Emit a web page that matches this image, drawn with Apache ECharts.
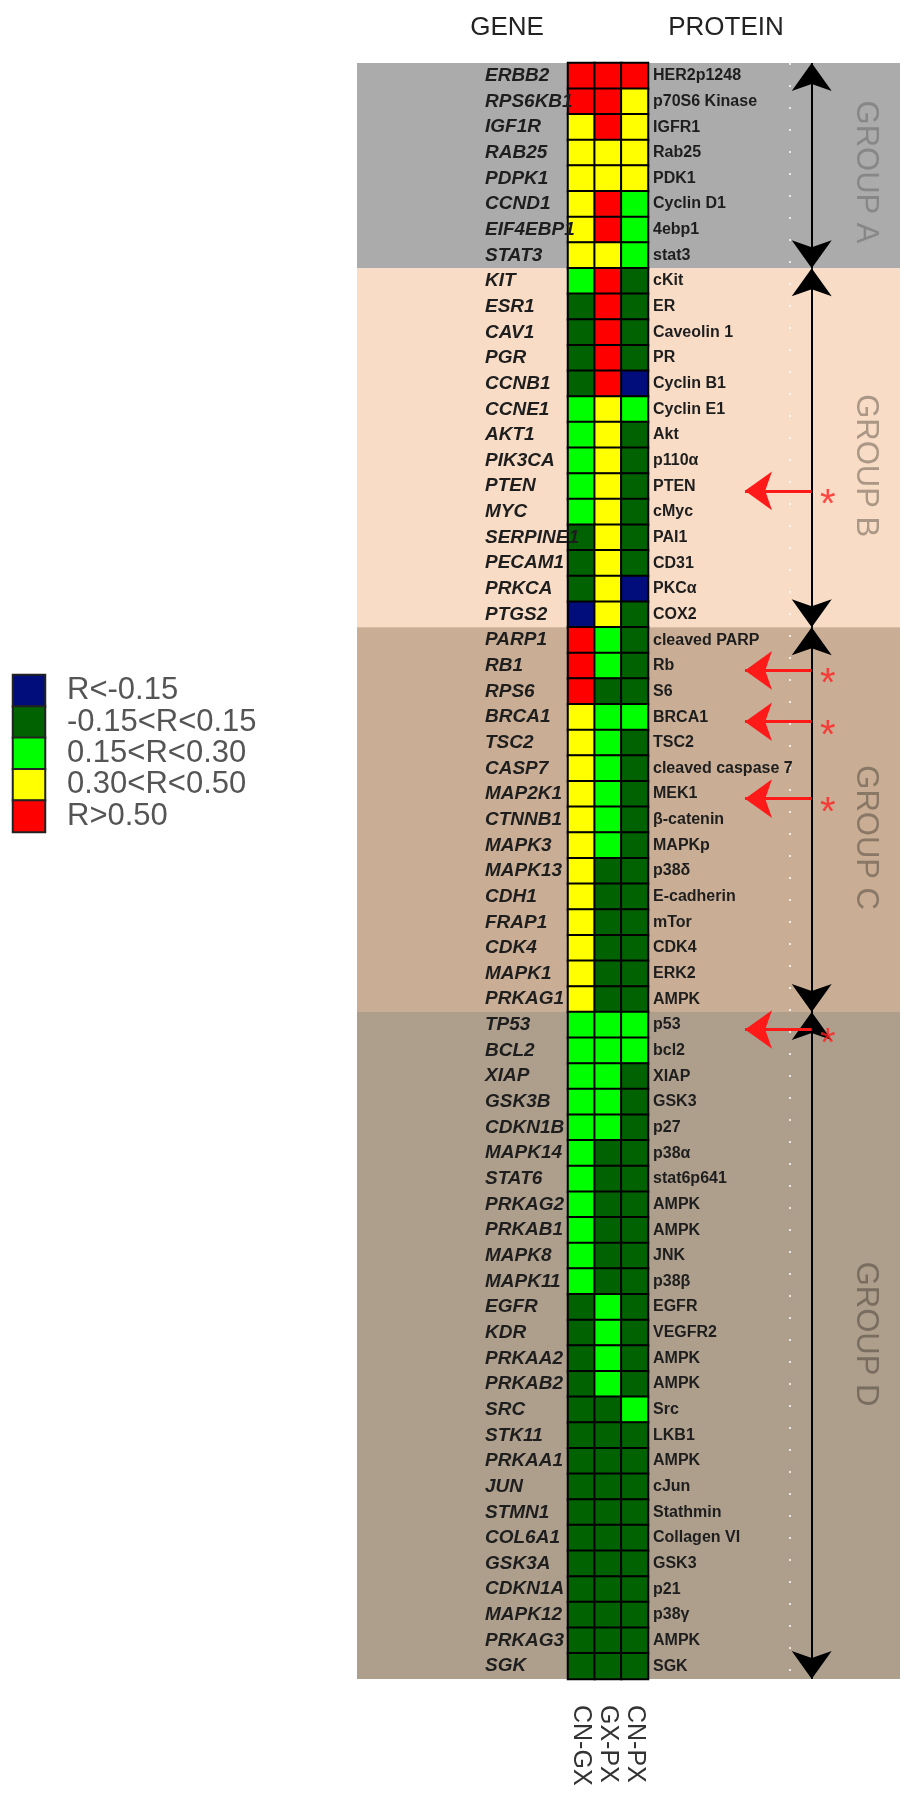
<!DOCTYPE html>
<html><head><meta charset="utf-8">
<script src="https://cdn.jsdelivr.net/npm/echarts@6/dist/echarts.min.js"></script>
<style>html,body{margin:0;padding:0;background:#fff}#chart{width:911px;height:1800px}</style>
</head><body><div id="chart"></div>
<script>
// ---------------- DATA ----------------
const genes = ['ERBB2','RPS6KB1','IGF1R','RAB25','PDPK1','CCND1','EIF4EBP1','STAT3',
  'KIT','ESR1','CAV1','PGR','CCNB1','CCNE1','AKT1','PIK3CA','PTEN','MYC','SERPINE1','PECAM1','PRKCA','PTGS2',
  'PARP1','RB1','RPS6','BRCA1','TSC2','CASP7','MAP2K1','CTNNB1','MAPK3','MAPK13','CDH1','FRAP1','CDK4','MAPK1','PRKAG1',
  'TP53','BCL2','XIAP','GSK3B','CDKN1B','MAPK14','STAT6','PRKAG2','PRKAB1','MAPK8','MAPK11','EGFR','KDR','PRKAA2','PRKAB2','SRC',
  'STK11','PRKAA1','JUN','STMN1','COL6A1','GSK3A','CDKN1A','MAPK12','PRKAG3','SGK'];
const proteins = ['HER2p1248','p70S6 Kinase','IGFR1','Rab25','PDK1','Cyclin D1','4ebp1','stat3',
  'cKit','ER','Caveolin 1','PR','Cyclin B1','Cyclin E1','Akt','p110α','PTEN','cMyc','PAI1','CD31','PKCα','COX2',
  'cleaved PARP','Rb','S6','BRCA1','TSC2','cleaved caspase 7','MEK1','β-catenin','MAPKp','p38δ','E-cadherin','mTor','CDK4','ERK2','AMPK',
  'p53','bcl2','XIAP','GSK3','p27','p38α','stat6p641','AMPK','AMPK','JNK','p38β','EGFR','VEGFR2','AMPK','AMPK','Src',
  'LKB1','AMPK','cJun','Stathmin','Collagen VI','GSK3','p21','p38γ','AMPK','SGK'];
const columns = ['CN-GX','GX-PX','CN-PX'];
// correlation class: 0 R<-0.15, 1 -0.15<R<0.15, 2 0.15<R<0.30, 3 0.30<R<0.50, 4 R>0.50
const cnGx = [4,4,3,3,3,3,3,3,
  2,1,1,1,1,2,2,2,2,2,1,1,1,0,
  4,4,4,3,3,3,3,3,3,3,3,3,3,3,3,
  2,2,2,2,2,2,2,2,2,2,2,1,1,1,1,1,1,1,1,1,1,1,1,1,1,1];
const gxPx = [4,4,4,3,3,4,4,3,
  4,4,4,4,4,3,3,3,3,3,3,3,3,3,
  2,2,1,2,2,2,2,2,2,1,1,1,1,1,1,
  2,2,2,2,2,1,1,1,1,1,1,2,2,2,2,1,1,1,1,1,1,1,1,1,1,1];
const cnPx = [4,3,3,3,3,2,2,2,
  1,1,1,1,0,2,1,1,1,1,1,1,0,1,
  1,1,1,2,1,1,1,1,1,1,1,1,1,1,1,
  2,2,1,1,1,1,1,1,1,1,1,1,1,1,1,2,1,1,1,1,1,1,1,1,1,1];
const legendLabels = ['R<-0.15','-0.15<R<0.15','0.15<R<0.30','0.30<R<0.50','R>0.50'];
const legendClasses = [0,1,2,3,4];
const groupNames = ['GROUP A','GROUP B','GROUP C','GROUP D'];
const groupSizes = [8,14,15,26];
const flaggedGenes = ['PTEN','RB1','BRCA1','MAP2K1','TP53'];

// ---------------- STYLE / LAYOUT ----------------
const FONT = '"Liberation Sans", Arial, sans-serif';
const classColors = ['#000d7a','#006200','#00ff00','#ffff00','#ff0000'];
const bandColors = ['#ababab','#f8dcc6','#c9ae95','#ae9f8d'];
const groupLabelColors = ['#7e7e7e','#978675','#7a6a5b','#6c6055'];
const groupLabelShift = [0.25, 0.7, 0.7, -0.45];
const X_LINE = 0.8374, X_TIP = 0.7145, X_AST = 0.8668, X_GROUP = 0.9374, X_DOT = 0.797;
const FLAG_SHIFT = 0.18;

const heatData = [];
const colArrays = [cnGx, gxPx, cnPx];
genes.forEach((g, i) => colArrays.forEach((arr, c) => heatData.push([c, i, arr[i]])));
const legendData = legendClasses.map((cls, i) => [0, i, cls]);
const groupStarts = [];
let acc = 0;
groupSizes.forEach(s => { groupStarts.push(acc); acc += s; });
const nRows = genes.length;

const chart = echarts.init(document.getElementById('chart'));
chart.setOption({
  animation: false,
  textStyle: { fontFamily: FONT },
  graphic: [
    { type: 'text', x: 507, y: 28, style: { text: 'GENE', font: '26px ' + FONT, fill: '#222', textAlign: 'center', textVerticalAlign: 'middle' } },
    { type: 'text', x: 726, y: 28, style: { text: 'PROTEIN', font: '26px ' + FONT, fill: '#222', textAlign: 'center', textVerticalAlign: 'middle' } }
  ],
  visualMap: {
    type: 'piecewise', show: false, dimension: 2, seriesIndex: [0, 1],
    pieces: classColors.map((c, i) => ({ value: i, color: c }))
  },
  grid: [
    { left: 568, top: 63, width: 80, height: 1616 },
    { left: 357, top: 63, width: 543, height: 1616 },
    { left: 13, top: 675, width: 32, height: 157, show: true, borderColor: '#333', borderWidth: 2 }
  ],
  xAxis: [
    { type: 'category', gridIndex: 0, data: columns, position: 'bottom',
      axisLine: { show: false }, axisTick: { show: false },
      axisLabel: { rotate: -90, margin: 26, fontSize: 25, color: '#333', interval: 0 } },
    { type: 'value', gridIndex: 1, min: 0, max: 1, show: false },
    { type: 'category', gridIndex: 2, data: [''], show: false }
  ],
  yAxis: [
    { type: 'category', gridIndex: 0, data: genes, inverse: true, z: 10,
      axisLine: { show: false }, axisTick: { show: false },
      axisLabel: { interval: 0, align: 'left', margin: 83, fontSize: 19, fontStyle: 'italic', fontWeight: 'bold', color: '#1e1e1e' } },
    { type: 'category', gridIndex: 0, data: genes, inverse: true, position: 'right', z: 10,
      axisLine: { show: false }, axisTick: { show: false },
      axisLabel: { interval: 0, margin: 5, fontSize: 16, fontWeight: 'bold', color: '#1e1e1e',
        formatter: (v, idx) => proteins[idx] } },
    { type: 'value', gridIndex: 1, min: 0, max: nRows, inverse: true, show: false },
    { type: 'category', gridIndex: 2, data: legendLabels, inverse: true, position: 'right',
      axisLine: { show: false }, axisTick: { show: false },
      axisLabel: { interval: 0, margin: 22, fontSize: 31, color: '#555' } }
  ],
  series: [
    { type: 'heatmap', xAxisIndex: 0, yAxisIndex: 0, data: heatData, z: 3,
      itemStyle: { borderColor: '#000', borderWidth: 2 }, emphasis: { disabled: true } },
    { type: 'heatmap', xAxisIndex: 2, yAxisIndex: 3, data: legendData,
      itemStyle: { borderColor: '#222', borderWidth: 2 }, emphasis: { disabled: true } },
    { type: 'scatter', xAxisIndex: 1, yAxisIndex: 2, symbolSize: 0, silent: true, z: 2,
      data: groupNames.map((n, k) => ({
        name: n, value: [X_GROUP, groupStarts[k] + groupSizes[k] / 2 + groupLabelShift[k]],
        label: { color: groupLabelColors[k] } })),
      label: { show: true, position: 'inside', formatter: '{b}', rotate: -90, fontSize: 31 },
      markArea: { silent: true,
        data: groupNames.map((n, k) => [
          { yAxis: groupStarts[k], itemStyle: { color: bandColors[k] } },
          { yAxis: groupStarts[k] + groupSizes[k] }]) },
      markLine: { silent: true, symbol: ['arrow', 'arrow'], symbolSize: [30, 28],
        label: { show: false }, lineStyle: { color: '#000', width: 2, type: 'solid' },
        data: [[{ coord: [X_DOT, 0], symbol: 'none', lineStyle: { color: 'rgba(255,255,255,0.75)', width: 2, type: [2, 20] } },
                { coord: [X_DOT, nRows], symbol: 'none' }]].concat(
          groupNames.map((n, k) => [
            { coord: [X_LINE, groupStarts[k]] },
            { coord: [X_LINE, groupStarts[k] + groupSizes[k]] }])) }
    },
    { type: 'scatter', xAxisIndex: 1, yAxisIndex: 2, symbolSize: 0, silent: true, z: 6,
      data: flaggedGenes.map(g => [X_AST, genes.indexOf(g) + 0.5 + FLAG_SHIFT]),
      label: { show: true, position: 'inside', formatter: '*', fontSize: 40, color: '#ff2020', offset: [0, 15] },
      markLine: { silent: true, symbol: ['none', 'arrow'], symbolSize: [29, 27],
        label: { show: false }, lineStyle: { color: '#ff1a1a', width: 3, type: 'solid' },
        data: flaggedGenes.map(g => [
          { coord: [X_LINE, genes.indexOf(g) + 0.5 + FLAG_SHIFT] },
          { coord: [X_TIP, genes.indexOf(g) + 0.5 + FLAG_SHIFT] }]) }
    }
  ]
});
</script></body></html>
